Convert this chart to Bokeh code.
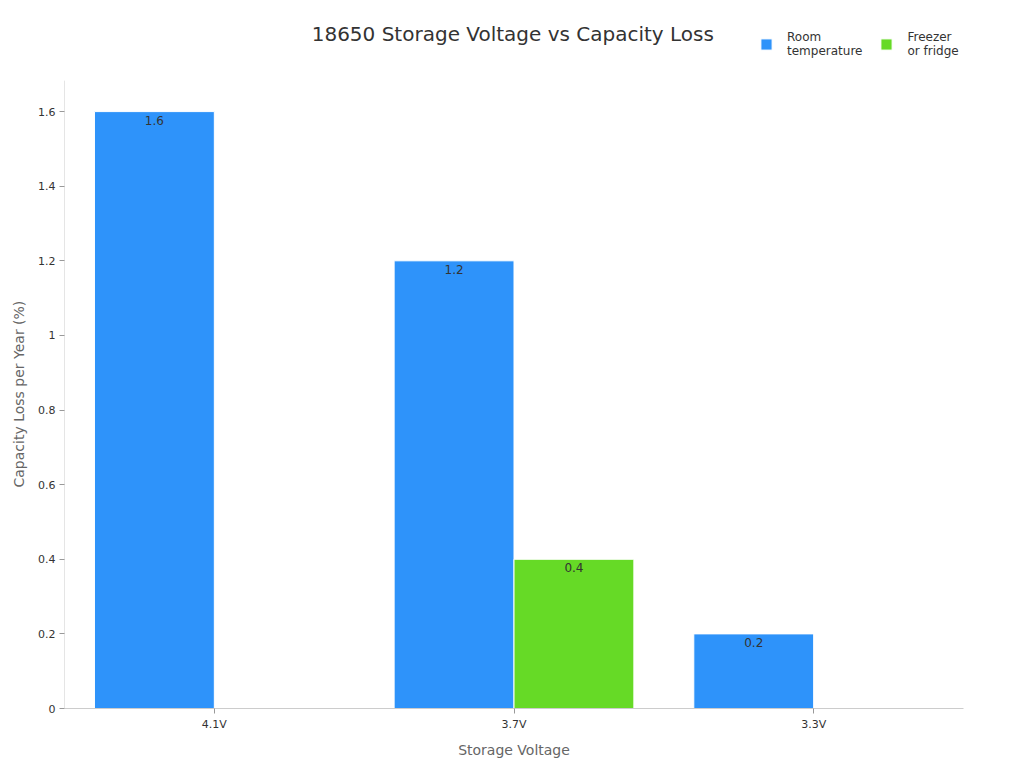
from bokeh.plotting import figure
from bokeh.models import ColumnDataSource, FactorRange, LabelSet, Legend, LegendItem, FixedTicker, Range1d, Title
from bokeh.core.properties import value
from bokeh.transform import dodge
from bokeh.embed import file_html
from bokeh.resources import INLINE

voltages = ["4.1V", "3.7V", "3.3V"]
room_temp = [1.6, 1.2, 0.2]
freezer = [0.0, 0.4, 0.0]
y_ticks = [0, 0.2, 0.4, 0.6, 0.8, 1.0, 1.2, 1.4, 1.6]
y_tick_labels = ["0", "0.2", "0.4", "0.6", "0.8", "1", "1.2", "1.4", "1.6"]
series_names = ["Room\ntemperature", "Freezer\nor fridge"]
colors = ["#2E93FA", "#66DA26"]
title_text = "18650 Storage Voltage vs Capacity Loss"
x_title = "Storage Voltage"
y_title = "Capacity Loss per Year (%)"

FONT = "DejaVu Sans"
AXIS_TOP = 1.683     # visible end of the value axis
FRAME_TOP = 1.871    # extra room above the axis for title and legend

src = ColumnDataSource(dict(v=voltages, room=room_temp, freezer=freezer))

p = figure(width=1008, height=760, x_range=FactorRange(*voltages, range_padding=0),
           y_range=Range1d(0, FRAME_TOP), output_backend="svg", toolbar_location=None,
           min_border_left=64, min_border_right=45, min_border_top=10, min_border_bottom=52)
p.x_range.factor_padding = 0

r1 = p.vbar(x=dodge("v", -0.2, range=p.x_range), top="room", width=0.4, source=src,
            fill_color=colors[0], line_color="white", line_width=1)
r2 = p.vbar(x=dodge("v", 0.2, range=p.x_range), top="freezer", width=0.4, source=src,
            fill_color=colors[1], line_color="white", line_width=1)

lab_room = ColumnDataSource(dict(x=[v for v, r in zip(voltages, room_temp) if r > 0],
                                 y=[r for r in room_temp if r > 0],
                                 t=[f"{r:g}" for r in room_temp if r > 0]))
lab_fr = ColumnDataSource(dict(x=[v for v, r in zip(voltages, freezer) if r > 0],
                               y=[r for r in freezer if r > 0],
                               t=[f"{r:g}" for r in freezer if r > 0]))
for s, off in ((lab_room, -0.2), (lab_fr, 0.2)):
    p.add_layout(LabelSet(x=dodge("x", off, range=p.x_range), y="y", text="t", source=s,
                          text_align="center", text_baseline="top", y_offset=-4,
                          text_font=value(FONT), text_font_size="12px", text_color="#333333"))

# left axis line only up to the visible axis top
p.segment(x0=dodge("x", -0.5, range=p.x_range), x1=dodge("x", -0.5, range=p.x_range),
          y0="y0", y1="y1",
          source=ColumnDataSource(dict(x=[voltages[0]], y0=[0], y1=[AXIS_TOP])),
          line_color="#cccccc", line_width=1)

# chart title
p.text(x=dodge("x", -0.004, range=p.x_range), y="y", text="t",
       source=ColumnDataSource(dict(x=[voltages[1]], y=[1.809], t=[title_text])),
       text_align="center", text_baseline="middle", text_font=value(FONT),
       text_font_size="20px", text_color="#333333")

p.xgrid.visible = False
p.ygrid.visible = False
p.outline_line_color = None

p.yaxis.ticker = FixedTicker(ticks=y_ticks)
p.yaxis.major_label_overrides = {t: l for t, l in zip(y_ticks, y_tick_labels)}
for ax in (p.xaxis[0], p.yaxis[0]):
    ax.axis_line_color = "#cccccc"
    ax.major_tick_line_color = "#999999"
    ax.minor_tick_line_color = None
    ax.major_tick_in = 0
    ax.major_tick_out = 5
    ax.major_label_standoff = 4
    ax.major_label_text_font = FONT
    ax.major_label_text_font_size = "11px"
    ax.major_label_text_color = "#333333"
    ax.axis_label_text_font = FONT
    ax.axis_label_text_font_size = "14px"
    ax.axis_label_text_font_style = "normal"
    ax.axis_label_text_color = "#666666"
p.yaxis.axis_line_color = None
p.xaxis.axis_label = x_title
p.xaxis.axis_label_standoff = 8

# y axis title, placed along the visible part of the axis
ytitle = Title(text=y_title, align="left", offset=221, vertical_align="top",
               text_font=FONT, text_font_size="14px", text_font_style="normal",
               text_color="#666666", standoff=14)
p.add_layout(ytitle, "left")

legend = Legend(items=[LegendItem(label=series_names[0], renderers=[r1]),
                       LegendItem(label=series_names[1], renderers=[r2])],
                orientation="horizontal", location=(695, 650),
                glyph_width=14, glyph_height=14, label_text_font=FONT,
                label_text_font_size="12px", label_text_color="#333333",
                spacing=17, padding=4, margin=0, border_line_color=None,
                background_fill_alpha=0, label_standoff=14)
p.add_layout(legend)

open("out.html", "w").write(file_html(p, INLINE))
